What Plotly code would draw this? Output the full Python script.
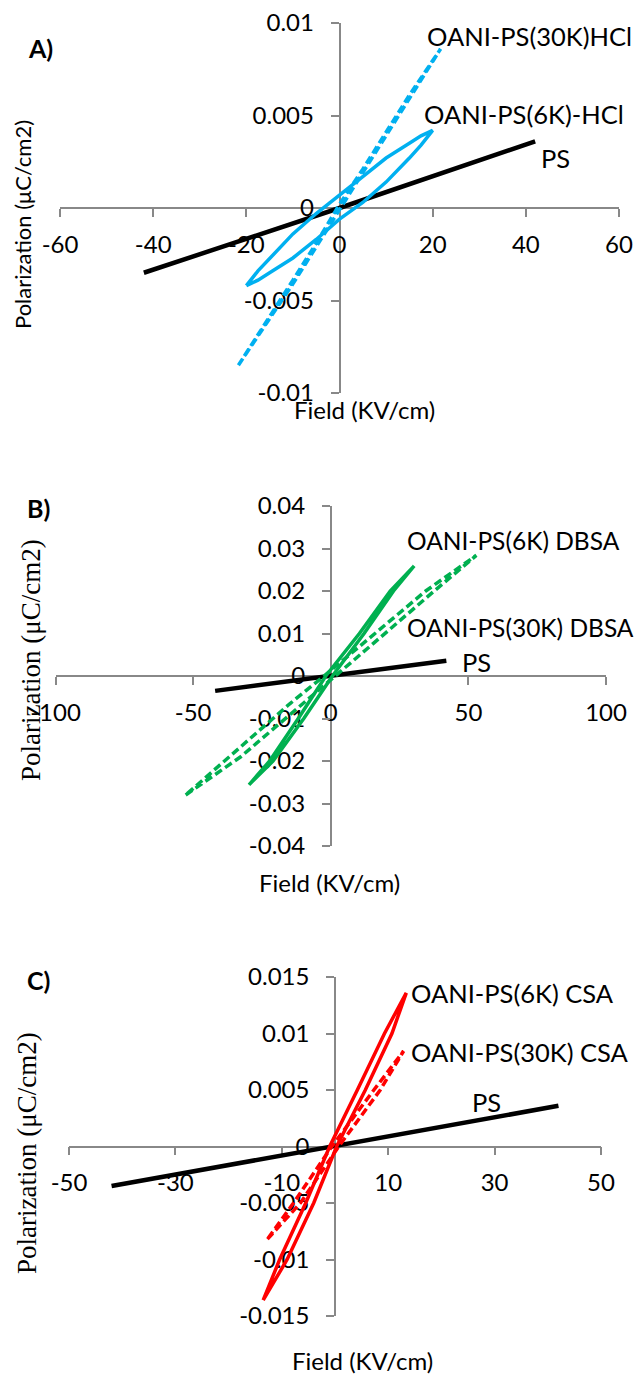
import plotly.graph_objects as go

W, H = 641, 1375

# ---------------- data ----------------
# PS reference film (same trace in every panel)
ps_E = [-42, 0, 42]
ps_P = [-0.0035, 0.0, 0.0036]

# Panel A: HCl-doped samples (loops: rising branch, then falling branch)
hcl6_E = [-20, -17.5, -15, -10, -5, 0, 5, 10, 15, 17.5, 20,
          17.5, 15, 10, 5, 0, -5, -10, -15, -17.5, -20]
hcl6_P = [-0.0042, -0.0039, -0.0035, -0.0027, -0.0017, -0.0006, 0.0003, 0.0014, 0.0027, 0.0034, 0.0042,
          0.0039, 0.0035, 0.0027, 0.0017, 0.0007, -0.0003, -0.0014, -0.0027, -0.0034, -0.0042]

hcl30_E = [-21.7, -15, -10, -5, 0, 5, 10, 15, 21.7, 15, 10, 5, 0, -5, -10, -15, -21.7]
hcl30_P = [-0.0085, -0.0060, -0.0041, -0.0021, -0.0001, 0.0019, 0.0039, 0.0059, 0.0086,
           0.0061, 0.0041, 0.0021, 0.0002, -0.0019, -0.0039, -0.0059, -0.0085]

# Panel B: DBSA-doped samples
dbsa6_E = [-29.7, -21.0, -9.8, 0.6, 12.1, 22.8, 30.3, 21.6, 10.4, -1.8, -11.8, -22.2, -29.7]
dbsa6_P = [-0.0256, -0.02, -0.01, 0.0, 0.01, 0.02, 0.0259, 0.02, 0.01, 0.0, -0.01, -0.02, -0.0256]

dbsa30_E = [-52.7, -32.7, -15, 0, 15, 37.6, 52.9, 34.5, 15, 0, -15, -32.7, -52.7]
dbsa30_P = [-0.028, -0.019, -0.0092, -0.0010, 0.0074, 0.02, 0.0284,
            0.02, 0.0093, 0.0013, -0.0066, -0.0166, -0.028]

# Panel C: CSA-doped samples
csa6_E = [-13.5, -9.0, -4.0, 0.3, 5.7, 10.7, 13.4, 9.3, 4.2, -1.0, -5.5, -10.4, -13.5]
csa6_P = [-0.0136, -0.01, -0.005, 0.0, 0.005, 0.01, 0.0136, 0.01, 0.005, 0.0, -0.005, -0.01, -0.0136]

csa30_E = [-12.7, -6.5, 0.7, 8.5, 12.9, 7.3, -0.6, -7.8, -12.7]
csa30_P = [-0.0082, -0.005, 0.0, 0.005, 0.00845, 0.005, 0.0, -0.005, -0.0082]

# ---------------- tick labels ----------------
a_xticks = [-60, -40, -20, 0, 20, 40, 60]
a_xlabels = ["-60", "-40", "-20", "0", "20", "40", "60"]
a_yticks = [-0.01, -0.005, 0, 0.005, 0.01]
a_ylabels = ["-0.01", "-0.005", "0", "0.005", "0.01"]

b_xticks = [-100, -50, 0, 50, 100]
b_xlabels = ["-100", "-50", "0", "50", "100"]
b_yticks = [-0.04, -0.03, -0.02, -0.01, 0, 0.01, 0.02, 0.03, 0.04]
b_ylabels = ["-0.04", "-0.03", "-0.02", "-0.01", "0", "0.01", "0.02", "0.03", "0.04"]

c_xticks = [-50, -30, -10, 10, 30, 50]
c_xlabels = ["-50", "-30", "-10", "10", "30", "50"]
c_yticks = [-0.015, -0.01, -0.005, 0, 0.005, 0.01, 0.015]
c_ylabels = ["-0.015", "-0.01", "-0.005", "0", "0.005", "0.01", "0.015"]

BLUE = "#00B0F0"
GREEN = "#00B050"
RED = "#FF0000"
BLACK = "#000000"
AXIS = "#888888"
SANS = "Lato"
SERIF = "Liberation Serif"
DASH = "8px,4px"


def px_x(p):
    return p / W


def px_y(p):
    return 1 - p / H


fig = go.Figure()


def add_line(E, P, color, width, axis_idx, dash="solid"):
    sfx = "" if axis_idx == 1 else str(axis_idx)
    fig.add_trace(go.Scatter(
        x=E, y=P, mode="lines",
        line=dict(color=color, width=width, dash=dash),
        xaxis="x" + sfx, yaxis="y" + sfx, showlegend=False, hoverinfo="skip"))


# panel A
add_line(ps_E, ps_P, BLACK, 4.5, 1)
add_line(hcl30_E, hcl30_P, BLUE, 3.5, 1, DASH)
add_line(hcl6_E, hcl6_P, BLUE, 3.5, 1)
# panel B
add_line(ps_E, ps_P, BLACK, 4.5, 2)
add_line(dbsa30_E, dbsa30_P, GREEN, 3.5, 2, DASH)
add_line(dbsa6_E, dbsa6_P, GREEN, 3.5, 2)
# panel C
add_line(ps_E, ps_P, BLACK, 4.5, 3)
add_line(csa30_E, csa30_P, RED, 3.5, 3, DASH)
add_line(csa6_E, csa6_P, RED, 3.5, 3)


def axis_pair(xr, yr, xdom_px, ydom_px, x_axis_px, y_axis_px, xt, xl, yt, yl):
    common = dict(showgrid=False, zeroline=False, showline=True, linecolor=AXIS,
                  linewidth=1.5, ticks="outside", ticklen=8, tickwidth=1.5,
                  tickcolor=AXIS, tickmode="array", anchor="free", layer="below traces",
                  automargin=False,
                  tickfont=dict(family=SANS, size=24, color=BLACK), fixedrange=True)
    xa = dict(common, range=xr, domain=[px_x(xdom_px[0]), px_x(xdom_px[1])],
              position=px_y(x_axis_px), tickvals=xt, ticktext=xl, ticklabelstandoff=7)
    ya = dict(common, range=yr, domain=[px_y(ydom_px[1]), px_y(ydom_px[0])],
              position=px_x(y_axis_px), tickvals=yt, ticktext=yl, ticklabelstandoff=12)
    return xa, ya


xa1, ya1 = axis_pair([-60, 60], [-0.01, 0.01], (60, 619), (23, 393), 208, 339.5,
                     a_xticks, a_xlabels, a_yticks, a_ylabels)
xa2, ya2 = axis_pair([-100, 100], [-0.04, 0.04], (55.5, 606), (506, 846), 676, 330.7,
                     b_xticks, b_xlabels, b_yticks, b_ylabels)
xa3, ya3 = axis_pair([-50, 50], [-0.015, 0.015], (69, 601), (977, 1316), 1146.5, 335,
                     c_xticks, c_xlabels, c_yticks, c_ylabels)


def note(text, x, y, size=24, family=SANS, xanchor="center", angle=0, bold=False):
    return dict(text=("<b>%s</b>" % text) if bold else text,
                x=px_x(x), y=px_y(y), xref="paper", yref="paper",
                xanchor=xanchor, yanchor="middle", showarrow=False, textangle=angle,
                font=dict(family=family, size=size, color=BLACK))


LBL = 25.5
LBL_B = 24.5
annotations = [
    # panel tags
    note("A)", 40, 48, size=25, bold=True),
    note("B)", 38, 508, size=25, bold=True),
    note("C)", 38, 980, size=25, bold=True),
    # axis titles
    note("Field (KV/cm)", 364, 410),
    note("Field (KV/cm)", 329, 882),
    note("Field (KV/cm)", 362, 1360),
    note("Polarization (μC/cm2)", 23, 225, size=22, angle=-90),
    note("Polarization (μC/cm2)", 31, 660, size=27, family=SERIF, angle=-90),
    note("Polarization (μC/cm2)", 27, 1153, size=27, family=SERIF, angle=-90),
    # series labels
    note("OANI-PS(30K)HCl", 425, 36, size=LBL, xanchor="left"),
    note("OANI-PS(6K)-HCl", 422, 114, size=LBL, xanchor="left"),
    note("PS", 539, 158, size=LBL, xanchor="left"),
    note("OANI-PS(6K) DBSA", 405, 540, size=LBL_B, xanchor="left"),
    note("OANI-PS(30K) DBSA", 405, 627, size=LBL_B, xanchor="left"),
    note("PS", 460, 662, size=LBL, xanchor="left"),
    note("OANI-PS(6K) CSA", 409, 993, size=LBL, xanchor="left"),
    note("OANI-PS(30K) CSA", 409, 1052, size=LBL, xanchor="left"),
    note("PS", 470, 1102, size=LBL, xanchor="left"),
]

fig.update_layout(
    width=W, height=H, autosize=False,
    margin=dict(l=0, r=0, t=0, b=0, pad=0, autoexpand=False),
    paper_bgcolor="white", plot_bgcolor="rgba(0,0,0,0)",
    xaxis=xa1, yaxis=ya1, xaxis2=xa2, yaxis2=ya2, xaxis3=xa3, yaxis3=ya3,
    annotations=annotations, showlegend=False,
)

fig.write_html("out.html", config={"displayModeBar": False})
